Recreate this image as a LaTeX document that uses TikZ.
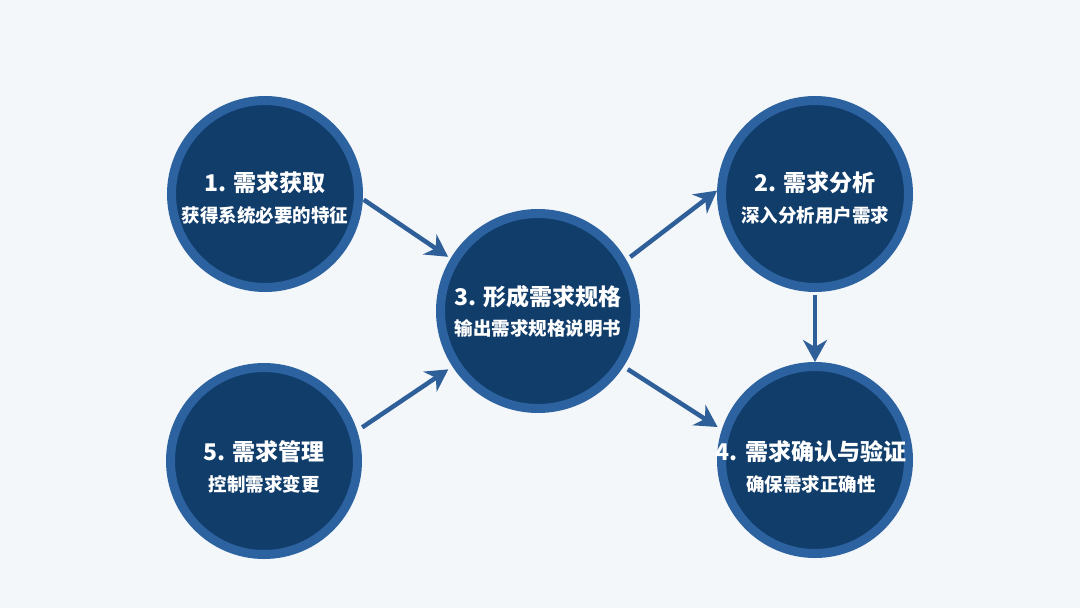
\documentclass[tikz,border=0pt]{standalone}
\usepackage{fontspec}
\newfontfamily\cjk{Noto Sans CJK SC}
\usetikzlibrary{arrows.meta}
\definecolor{bgc}{HTML}{F3F7FA}
\definecolor{navy}{HTML}{113D6B}
\definecolor{ring}{HTML}{2D62A0}
\definecolor{arrowc}{HTML}{2F5F98}
\tikzset{
  bubble/.style={circle, fill=navy, draw=ring, line width=9pt, minimum size=187pt, inner sep=0pt},
  bigbubble/.style={bubble, minimum size=195pt},
  ttl/.style={text=white, font=\cjk\bfseries\fontsize{23}{26}\selectfont, inner sep=0pt},
  sub/.style={text=white, font=\cjk\bfseries\fontsize{18.5}{21}\selectfont, inner sep=0pt},
  flow/.style={draw=arrowc, line width=4.5pt, -{Stealth[length=22pt, width=24pt, inset=7pt]}}
}
\begin{document}
\begin{tikzpicture}[x=1pt, y=-1pt]
\fill[bgc] (0,0) rectangle (1080,608);
\useasboundingbox (0,0) rectangle (1080,608);

\node[bubble] (n1) at (265,194) {};
\node[bubble] (n2) at (815,194) {};
\node[bigbubble] (n3) at (538,311) {};
\node[bubble] (n4) at (815,460) {};
\node[bubble] (n5) at (264,461) {};

\node[ttl] (t1) at (265,183) {1. 需求获取};
\node[sub] (s1) at (265,215) {获得系统必要的特征};
\node[ttl] (t2) at (815,183) {2. 需求分析};
\node[sub] (s2) at (815,215) {深入分析用户需求};
\node[ttl] (t3) at (538,297) {3. 形成需求规格};
\node[sub] (s3) at (538,328) {输出需求规格说明书};
\node[ttl] (t4) at (811,452) {4. 需求确认与验证};
\node[sub] (s4) at (811,484) {确保需求正确性};
\node[ttl] (t5) at (264,452) {5. 需求管理};
\node[sub] (s5) at (264,484) {控制需求变更};

\draw[flow, shorten <=1pt, shorten >=3pt] (n1.-3.5) -- (n3.149);
\draw[flow, shorten <=5pt] (n3.30) -- (n2.178);
\draw[flow, shorten <=3pt] (n2.-90) -- (n4.90);
\draw[flow, shorten <=5pt, shorten >=5pt] (n3.-33) -- (n4.162);
\draw[flow, shorten <=6pt, shorten >=5pt] (n5.18) -- (n3.213);
\end{tikzpicture}
\end{document}
